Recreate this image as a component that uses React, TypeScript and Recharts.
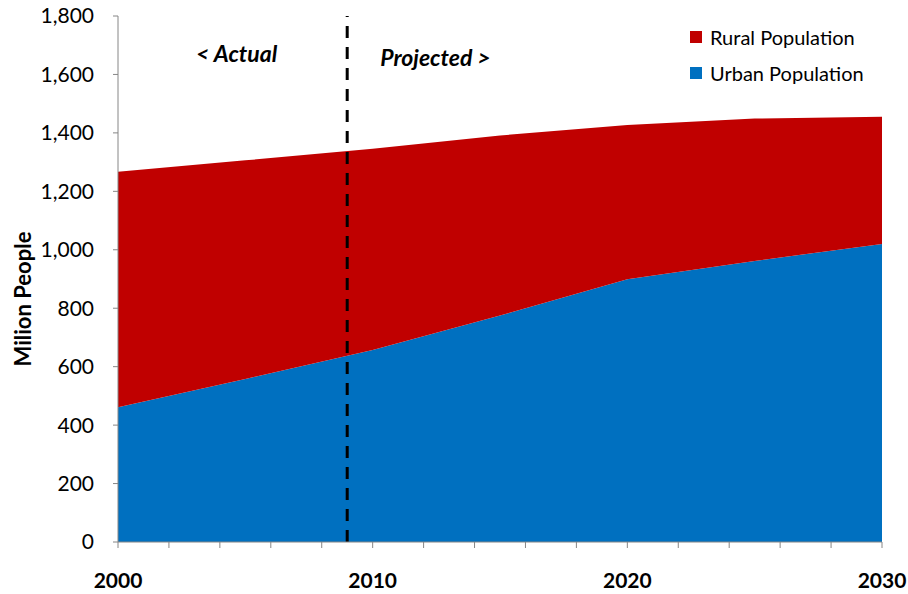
import React from 'react';
import {
  AreaChart,
  Area,
  XAxis,
  YAxis,
  ReferenceLine,
  Legend,
  Label
} from 'recharts';

// years with data points
const years = [2000, 2005, 2010, 2015, 2020, 2025, 2030];
// million people
const urbanPopulation = [461, 558, 657, 775, 899, 962, 1020];
const ruralPopulation = [806, 748, 689, 616, 528, 487, 435];

const xTicks = [2000, 2002, 2004, 2006, 2008, 2010, 2012, 2014, 2016, 2018, 2020, 2022, 2024, 2026, 2028, 2030];
const xLabelled = [2000, 2010, 2020, 2030];
const yTicks = [0, 200, 400, 600, 800, 1000, 1200, 1400, 1600, 1800];

const projectionStart = 2009;
const legendOrder = ['Rural Population', 'Urban Population'];

const data = years.map((year, i) => ({
  year,
  urban: urbanPopulation[i],
  rural: ruralPopulation[i]
}));

const FONT = 'Lato, "Liberation Sans", sans-serif';
const AXIS_GREY = '#868686';

function PhaseLabels({ viewBox }: any) {
  const x = viewBox?.x ?? 0;
  const y = viewBox?.y ?? 0;
  return (
    <g fontFamily={FONT} fontSize={23} fontWeight="bold" fontStyle="italic" fill="#000">
      <text x={x - 70} y={y + 46} textAnchor="end">&lt; Actual</text>
      <text x={x + 33} y={y + 50} textAnchor="start">Projected &gt;</text>
    </g>
  );
}

function YTitle({ viewBox }: any) {
  const cy = (viewBox?.y ?? 0) + (viewBox?.height ?? 0) / 2 + 20;
  const cx = 22;
  return (
    <text
      x={cx}
      y={cy}
      transform={`rotate(-90 ${cx} ${cy})`}
      textAnchor="middle"
      dominantBaseline="central"
      fontFamily={FONT}
      fontSize={22}
      fontWeight="bold"
      fill="#000"
    >
      Milion People
    </text>
  );
}

function LegendBox({ payload }: any) {
  const items = [...(payload ?? [])].sort(
    (a: any, b: any) => legendOrder.indexOf(a.value) - legendOrder.indexOf(b.value)
  );
  return (
    <div style={{ fontFamily: FONT, fontSize: 20, color: '#000' }}>
      {items.map((item: any) => (
        <div key={item.value} style={{ display: 'flex', alignItems: 'center', height: 36 }}>
          <span style={{ width: 12, height: 12, background: item.color, marginRight: 8, display: 'inline-block' }} />
          <span>{item.value}</span>
        </div>
      ))}
    </div>
  );
}

export default function App() {
  return (
    <div style={{ position: 'absolute', left: 0, top: 0, width: 908, height: 594, background: '#fff' }}>
      <AreaChart
        width={908}
        height={594}
        data={data}
        margin={{ top: 16, right: 26, bottom: 22, left: 0 }}
      >
        <XAxis
          dataKey="year"
          type="number"
          domain={[2000, 2030]}
          ticks={xTicks}
          interval={0}
          tickFormatter={(v: number) => (xLabelled.includes(v) ? String(v) : '')}
          tickSize={6}
          tickMargin={25}
          height={30}
          axisLine={{ stroke: AXIS_GREY }}
          tickLine={{ stroke: AXIS_GREY }}
          tick={{ fill: '#000', fontFamily: FONT, fontSize: 21, fontWeight: 'bold' }}
        />
        <YAxis
          domain={[0, 1800]}
          ticks={yTicks}
          interval={0}
          width={118}
          tickSize={5}
          tickMargin={19}
          tickFormatter={(v: number) => v.toLocaleString('en-US')}
          axisLine={{ stroke: AXIS_GREY }}
          tickLine={{ stroke: AXIS_GREY }}
          tick={{ fill: '#000', fontFamily: FONT, fontSize: 21 }}
        >
          <Label content={<YTitle />} />
        </YAxis>
        <Area
          type="linear"
          dataKey="urban"
          name="Urban Population"
          stackId="pop"
          stroke="none"
          fill="#0070C0"
          fillOpacity={1}
          isAnimationActive={false}
        />
        <Area
          type="linear"
          dataKey="rural"
          name="Rural Population"
          stackId="pop"
          stroke="none"
          fill="#C00000"
          fillOpacity={1}
          isAnimationActive={false}
        />
        <ReferenceLine
          x={projectionStart}
          stroke="#000"
          strokeWidth={3}
          strokeDasharray="12 9"
          label={<PhaseLabels />}
        />
        <Legend
          layout="vertical"
          verticalAlign="middle"
          align="center"
          content={<LegendBox />}
          wrapperStyle={{ top: 19, left: 690, width: 210 }}
        />
      </AreaChart>
    </div>
  );
}
